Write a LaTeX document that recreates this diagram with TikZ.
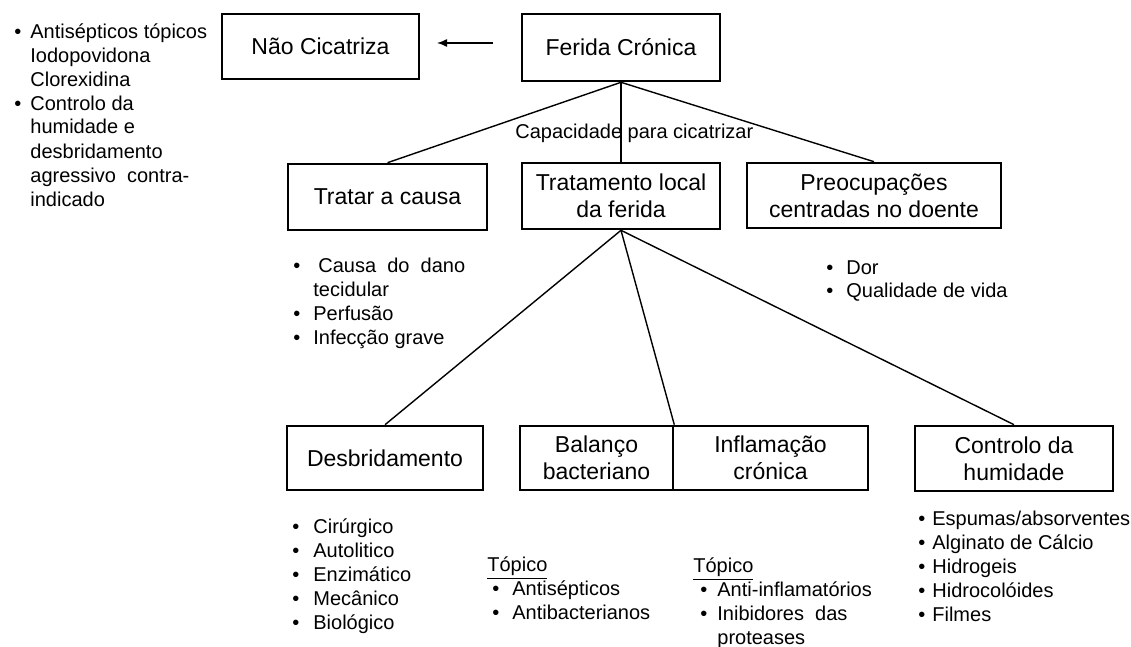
\documentclass[tikz,border=0pt]{standalone}
\usepackage{fontspec}
\setmainfont{Liberation Sans}
\usetikzlibrary{arrows.meta}

\newcommand{\bl}[1][9.5pt]{\makebox[#1][l]{\textbullet}}
\newcommand{\boxfont}{\fontsize{11.5}{13.5}\selectfont}
\newcommand{\listfont}{\fontsize{10}{12}\selectfont}

\tikzset{
  box/.style={draw, line width=1.3pt, align=center, font=\boxfont, inner sep=0pt},
  lst/.style={align=left, font=\listfont, inner sep=0pt, anchor=base west},
  link/.style={line width=0.7pt},
}

\begin{document}
\begin{tikzpicture}[x=0.5pt, y=-0.5pt]
  \useasboundingbox (0,0) rectangle (1131,647);

  % draw the boxes of the first row
  \node[box, minimum width=98.5pt, minimum height=32.5pt] (noheal) at (320.5,46.5) {Não Cicatriza};
  \node[box, minimum width=99pt, minimum height=33.5pt] (chronic) at (621,47.5) {Ferida Crónica};

  % draw the arrow towards the left box
  \coordinate (arrtail) at (493,43);
  \coordinate (arrhead) at (437,43);
  \draw[link, -{Latex[length=5pt, width=4pt]}] (arrtail) -- (arrhead);

  % draw the boxes of the second row
  \node[box, minimum width=99.5pt, minimum height=33pt] (cause) at (387.5,197) {Tratar a causa};
  \node[box, minimum width=99pt, minimum height=33pt] (local) at (621,196) {Tratamento local\\da ferida};
  \node[box, minimum width=127pt, minimum height=32.5pt] (patient) at (874,195.5) {Preocupações\\centradas no doente};

  % draw the boxes of the third row
  \node[box, minimum width=98pt, minimum height=32pt] (debrid) at (385,458) {Desbridamento};
  \node[box, minimum width=76.5pt, minimum height=32pt] (bact) at (596.5,458) {Balanço\\bacteriano};
  \node[box, minimum width=97.5pt, minimum height=32pt] (inflam) at (770.5,458) {Inflamação\\crónica};
  \node[box, minimum width=99pt, minimum height=32.5pt] (moist) at (1014,458.5) {Controlo da\\humidade};

  % draw the lines between the boxes
  \draw[link] (chronic.south) -- (cause.north);
  \draw[link] (chronic.south) -- (local.north);
  \draw[link] (chronic.south) -- (patient.north);
  \draw[link] (local.south) -- (debrid.north);
  \draw[link] (local.south) -- (bact.north east);
  \draw[link] (local.south) -- (moist.north);

  % draw the label under the top box
  \node[lst] (healcap) at (515,139) {Capacidade para cicatrizar};

  % draw the lists of each box (placed at the baseline of their last line)
  \node[lst] (noheallst) at (14,206) {\bl[8pt]Antisépticos tópicos\\
    \hspace*{8pt}Iodopovidona\\
    \hspace*{8pt}Clorexidina\\
    \bl[8pt]Controlo da\\
    \hspace*{8pt}humidade e\\
    \hspace*{8pt}desbridamento\\
    \hspace*{8pt}agressivo\ \ contra-\\
    \hspace*{8pt}indicado};
  \node[lst] (causelst) at (293,344) {\bl[10pt]\hspace{2.5pt}Causa\ \ do\ \ dano\\
    \hspace*{10pt}tecidular\\
    \bl[10pt]Perfusão\\
    \bl[10pt]Infecção grave};
  \node[lst] (patientlst) at (826,298) {\bl[10pt]Dor\\
    \bl[10pt]Qualidade de vida};
  \node[lst] (debridlst) at (292,629) {\bl[10.5pt]Cirúrgico\\
    \bl[10.5pt]Autolitico\\
    \bl[10.5pt]Enzimático\\
    \bl[10.5pt]Mecânico\\
    \bl[10.5pt]Biológico};
  \node[lst] (bactlst) at (487,619) {\underline{Tópico}\\
    \hspace*{2.5pt}\bl[10pt]Antisépticos\\
    \hspace*{2.5pt}\bl[10pt]Antibacterianos};
  \node[lst] (inflamlst) at (693,644) {\underline{Tópico}\\
    \hspace*{3.5pt}\bl[8.5pt]Anti-inflamatórios\\
    \hspace*{3.5pt}\bl[8.5pt]Inibidores\ \ das\\
    \hspace*{12pt}proteases};
  \node[lst] (moistlst) at (918,621) {\bl[7pt]Espumas/absorventes\\
    \bl[7pt]Alginato de Cálcio\\
    \bl[7pt]Hidrogeis\\
    \bl[7pt]Hidrocolóides\\
    \bl[7pt]Filmes};

\end{tikzpicture}
\end{document}
